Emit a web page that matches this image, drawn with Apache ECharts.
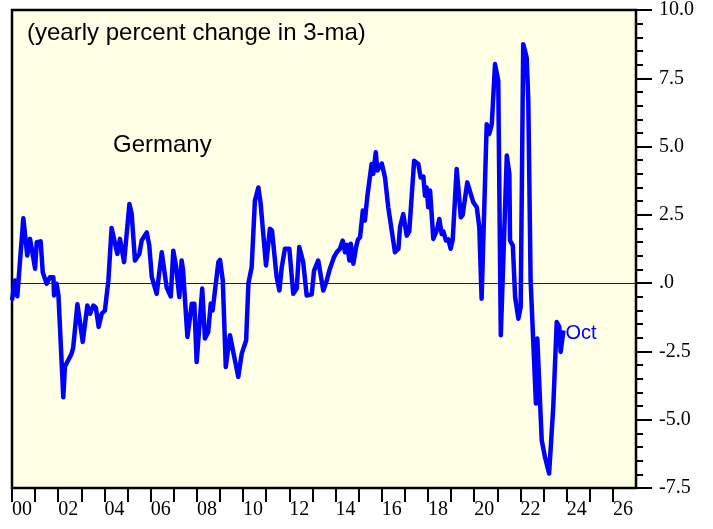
<!DOCTYPE html>
<html>
<head>
<meta charset="utf-8">
<script src="https://cdn.jsdelivr.net/npm/echarts@6/dist/echarts.min.js"></script>
<style>
  html, body { margin: 0; padding: 0; background: #fff; }
  #chart { width: 713px; height: 529px; }
</style>
</head>
<body>
<div id="chart"></div>
<script>
// turning points (decimal year, % change)
const years = [
  2000.00, 2000.13, 2000.23, 2000.49, 2000.66, 2000.78, 2001.00, 2001.07, 2001.24, 2001.33,
  2001.50, 2001.64, 2001.79, 2001.82, 2001.93, 2002.01, 2002.22, 2002.29, 2002.58, 2002.65,
  2002.83, 2003.06, 2003.26, 2003.38, 2003.52, 2003.63, 2003.75, 2003.88, 2004.02, 2004.17,
  2004.31, 2004.56, 2004.67, 2004.85, 2005.08, 2005.18, 2005.32, 2005.51, 2005.61, 2005.83,
  2005.94, 2006.05, 2006.26, 2006.48, 2006.69, 2006.87, 2006.98, 2007.10, 2007.24, 2007.34,
  2007.40, 2007.59, 2007.78, 2007.89, 2007.99, 2008.23, 2008.35, 2008.49, 2008.60, 2008.68,
  2008.93, 2009.00, 2009.12, 2009.25, 2009.43, 2009.79, 2009.94, 2010.13, 2010.23, 2010.37,
  2010.51, 2010.66, 2010.76, 2010.99, 2011.16, 2011.25, 2011.45, 2011.57, 2011.67, 2011.81,
  2012.00, 2012.17, 2012.32, 2012.43, 2012.60, 2012.75, 2012.97, 2013.07, 2013.25, 2013.47,
  2013.62, 2013.73, 2013.93, 2014.05, 2014.19, 2014.31, 2014.41, 2014.50, 2014.60, 2014.66,
  2014.77, 2014.89, 2014.97, 2015.06, 2015.18, 2015.27, 2015.37, 2015.56, 2015.63, 2015.74,
  2015.81, 2016.00, 2016.14, 2016.28, 2016.57, 2016.72, 2016.79, 2016.93, 2017.08, 2017.19,
  2017.40, 2017.58, 2017.68, 2017.80, 2017.87, 2017.94, 2018.01, 2018.09, 2018.23, 2018.38,
  2018.49, 2018.59, 2018.66, 2018.78, 2018.88, 2018.98, 2019.07, 2019.24, 2019.42, 2019.50,
  2019.70, 2019.96, 2020.11, 2020.22, 2020.32, 2020.54, 2020.65, 2020.76, 2020.90, 2021.04,
  2021.15, 2021.41, 2021.52, 2021.55, 2021.67, 2021.77, 2021.91, 2022.01, 2022.12, 2022.27,
  2022.34, 2022.44, 2022.67, 2022.73, 2022.92, 2023.06, 2023.24, 2023.42, 2023.57, 2023.68,
  2023.74, 2023.86
];
const values = [
  -0.63, 0.10, -0.48, 2.38, 1.01, 1.62, 0.53, 1.50, 1.53, 0.40,
  -0.02, 0.22, 0.22, -0.45, -0.02, -0.45, -4.18, -3.05, -2.58, -2.35,
  -0.77, -2.15, -0.82, -1.12, -0.82, -0.90, -1.60, -1.12, -1.00, 0.10,
  2.02, 1.07, 1.62, 0.77, 2.90, 2.53, 0.83, 1.07, 1.56, 1.86,
  1.38, 0.22, -0.39, 1.13, -0.15, -0.49, 1.19, 0.60, -0.51, 0.83,
  0.50, -1.97, -0.75, -0.75, -2.89, -0.20, -2.03, -1.79, -0.75, -1.00,
  0.77, 0.85, 0.10, -3.07, -1.91, -3.43, -2.58, -2.10, 0.00, 0.58,
  3.02, 3.50, 2.90, 0.65, 1.99, 1.93, 0.22, -0.27, 0.58, 1.26,
  1.26, -0.39, -0.20, 1.32, 0.77, -0.45, -0.41, 0.46, 0.83, -0.27,
  0.10, 0.46, 0.95, 1.13, 1.26, 1.56, 1.13, 1.40, 0.83, 1.44,
  0.71, 1.32, 1.60, 1.68, 2.66, 2.29, 3.14, 4.36, 4.00, 4.79,
  4.12, 4.38, 3.87, 2.78, 1.13, 1.26, 2.05, 2.53, 1.74, 1.90,
  4.48, 4.36, 3.87, 3.90, 3.20, 3.50, 2.78, 3.39, 1.62, 1.93,
  2.35, 1.80, 1.90, 1.56, 1.60, 1.26, 1.60, 4.18, 2.41, 2.50,
  3.69, 2.96, 2.78, 2.05, -0.57, 5.82, 5.46, 5.82, 8.02, 7.41,
  -1.91, 4.67, 4.00, 1.56, 1.38, -0.51, -1.30, -0.88, 8.75, 8.26,
  6.68, 0.10, -4.41, -2.03, -5.75, -6.36, -6.97, -4.53, -1.42, -1.60,
  -2.52, -1.73
];
const yTicks = [-7.5, -5.0, -2.5, 0, 2.5, 5.0, 7.5, 10.0];
const lastLabel = "Oct";
const titleText = "(yearly percent change in 3-ma)";
const countryText = "Germany";

const chart = echarts.init(document.getElementById("chart"), null, { renderer: "canvas" });

const serif = "'Liberation Serif', 'DejaVu Serif', serif";
const sans = "'Liberation Sans', Arial, sans-serif";

const option = {
  backgroundColor: "#ffffff",
  animation: false,
  grid: {
    left: 12,
    top: 9,
    right: 77,
    bottom: 41,
    show: true,
    backgroundColor: "#FFFFE6",
    borderColor: "#000",
    borderWidth: 2.5,
  },
  xAxis: {
    type: "value",
    min: 2000,
    max: 2027,
    interval: 1,
    axisLine: { show: false, onZero: false },
    axisTick: { show: true, length: 14, lineStyle: { color: "#000", width: 2 } },
    splitLine: { show: false },
    axisLabel: {
      margin: 22,
      align: "left",
      verticalAlign: "middle",
      color: "#000",
      fontFamily: serif,
      fontSize: 20,
      showMaxLabel: false,
      formatter: (v) => (v % 2 === 0 && v < 2027 ? String(v % 100).padStart(2, "0") : ""),
    },
  },
  yAxis: {
    type: "value",
    position: "right",
    min: yTicks[0],
    max: yTicks[yTicks.length - 1],
    interval: 2.5,
    axisLine: { show: false },
    axisTick: { show: true, length: 16, lineStyle: { color: "#000", width: 2 } },
    minorTick: { show: true, splitNumber: 5, length: 7, lineStyle: { color: "#000", width: 2 } },
    splitLine: { show: false },
    axisLabel: {
      margin: 23,
      color: "#000",
      fontFamily: serif,
      fontSize: 20,
      formatter: (v) => (v === 0 ? ".0" : v.toFixed(1)),
    },
  },
  graphic: [
    {
      type: "text",
      left: 27,
      top: 21,
      style: { text: titleText, font: "24px " + sans, fill: "#000" },
    },
    {
      type: "text",
      left: 113,
      top: 133,
      style: { text: countryText, font: "24px " + sans, fill: "#000" },
    },
  ],
  series: [
    {
      type: "line",
      data: years.map((y, i) => [y, values[i]]),
      showSymbol: false,
      symbol: "none",
      lineStyle: { color: "#0000FF", width: 4.5, join: "round" },
      z: 3,
      endLabel: {
        show: true,
        formatter: () => lastLabel,
        color: "#0000FF",
        fontFamily: sans,
        fontSize: 20,
        distance: 2,
        offset: [0, 3],
      },
      markLine: {
        silent: true,
        symbol: "none",
        label: { show: false },
        lineStyle: { color: "#222", width: 1, type: "solid" },
        data: [{ yAxis: 0 }],
        z: 1,
      },
    },
  ],
};

chart.setOption(option);
window.addEventListener("resize", chart.resize);
</script>
</body>
</html>
